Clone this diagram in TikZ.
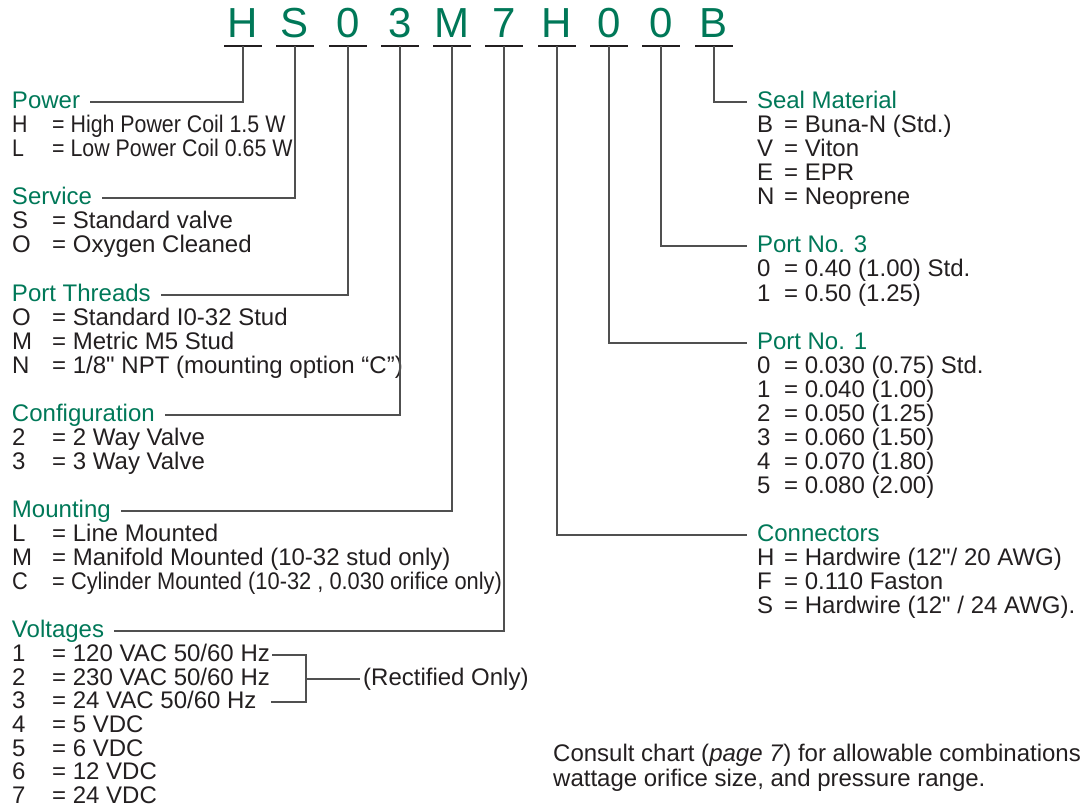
\documentclass[tikz,border=0pt]{standalone}
\usepackage{fontspec}
\setmainfont{Liberation Sans}
\newfontfamily\narrowfont[FakeStretch=0.89]{Liberation Sans}
\newfontfamily\condfont[FakeStretch=0.91]{Liberation Sans}
\newfontfamily\rawfont[Ligatures=TeXOff]{Liberation Sans}
\definecolor{codegreen}{RGB}{0,120,88}
\definecolor{inkgray}{RGB}{35,31,32}
\definecolor{leadgray}{RGB}{80,80,80}
\newcommand{\lkey}[1]{\makebox[40pt][l]{#1}}
\newcommand{\rkey}[1]{\makebox[27pt][l]{#1}}
\newcommand{\inch}{{\rawfont\symbol{34}}}
\tikzset{
	codechar/.style={text=codegreen, font=\fontsize{42}{42}\selectfont, anchor=base, inner sep=0pt},
	heading/.style={text=codegreen, anchor=base west, inner sep=0pt, outer xsep=10pt, text height=17pt, text depth=5pt},
	entry/.style={text=inkgray, anchor=base west, inner sep=0pt, text height=17pt, text depth=5pt},
	leader/.style={draw=leadgray, line width=1.3pt},
	underbar/.style={draw=inkgray, line width=2.5pt}
}
\begin{document}
\begin{tikzpicture}[x=1pt, y=-1pt, font=\fontsize{24}{24}\selectfont]
		\useasboundingbox (0,0) rectangle (1080,808);
		
		% model code
		\node[codechar] (k1) at (243,38) {H};
		\node[codechar] (k2) at (295,38) {S};
		\node[codechar] (k3) at (348,38) {0};
		\node[codechar] (k4) at (400,38) {3};
		\node[codechar] (k5) at (452,38) {M};
		\node[codechar] (k6) at (504,38) {7};
		\node[codechar] (k7) at (557,38) {H};
		\node[codechar] (k8) at (609,38) {0};
		\node[codechar] (k9) at (661,38) {0};
		\node[codechar] (k10) at (714,38) {B};
		
		\coordinate (t1) at (243,46);
		\coordinate (t2) at (295,46);
		\coordinate (t3) at (348,46);
		\coordinate (t4) at (400,46);
		\coordinate (t5) at (452,46);
		\coordinate (t6) at (504,46);
		\coordinate (t7) at (557,46);
		\coordinate (t8) at (609,46);
		\coordinate (t9) at (661,46);
		\coordinate (t10) at (714,46);
		
		\draw[underbar] ([xshift=-19pt]t1) -- ([xshift=19pt]t1);
		\draw[underbar] ([xshift=-19pt]t2) -- ([xshift=19pt]t2);
		\draw[underbar] ([xshift=-19pt]t3) -- ([xshift=19pt]t3);
		\draw[underbar] ([xshift=-19pt]t4) -- ([xshift=19pt]t4);
		\draw[underbar] ([xshift=-19pt]t5) -- ([xshift=19pt]t5);
		\draw[underbar] ([xshift=-19pt]t6) -- ([xshift=19pt]t6);
		\draw[underbar] ([xshift=-19pt]t7) -- ([xshift=19pt]t7);
		\draw[underbar] ([xshift=-19pt]t8) -- ([xshift=19pt]t8);
		\draw[underbar] ([xshift=-19pt]t9) -- ([xshift=19pt]t9);
		\draw[underbar] ([xshift=-19pt]t10) -- ([xshift=19pt]t10);
		
		% left column
		\node[heading] (power) at (2,108) {Power};
		\node[entry] (pw1) at (12,132) {\narrowfont\lkey{H}= High Power Coil 1.5 W};
		\node[entry] (pw2) at (12,156) {\narrowfont\lkey{L}= Low Power Coil 0.65 W};
		
		\node[heading] (service) at (2,204) {Service};
		\node[entry] (sv1) at (12,228) {\lkey{S}= Standard valve};
		\node[entry] (sv2) at (12,252) {\lkey{O}= Oxygen Cleaned};
		
		\node[heading] (threads) at (2,301) {Port Threads};
		\node[entry] (th1) at (12,325) {\lkey{O}= Standard I0-32 Stud};
		\node[entry] (th2) at (12,349) {\lkey{M}= Metric M5 Stud};
		\node[entry] (th3) at (12,373) {\lkey{N}= 1/8\inch{} NPT (mounting option “C”)};
		
		\node[heading] (config) at (2,421) {Configuration};
		\node[entry] (cf1) at (12,445) {\lkey{2}= 2 Way Valve};
		\node[entry] (cf2) at (12,469) {\lkey{3}= 3 Way Valve};
		
		\node[heading] (mounting) at (2,517) {Mounting};
		\node[entry] (mt1) at (12,541) {\lkey{L}= Line Mounted};
		\node[entry] (mt2) at (12,565) {\lkey{M}= Manifold Mounted (10-32 stud only)};
		\node[entry] (mt3) at (12,589) {\condfont\lkey{C}= Cylinder Mounted (10-32 , 0.030 orifice only)};
		
		\node[heading] (voltages) at (2,637) {Voltages};
		\node[entry] (vt1) at (12,661) {\lkey{1}= 120 VAC 50/60 Hz};
		\node[entry] (vt2) at (12,685) {\lkey{2}= 230 VAC 50/60 Hz};
		\node[entry] (vt3) at (12,708) {\lkey{3}= 24 VAC 50/60 Hz};
		\node[entry] (vt4) at (12,732) {\lkey{4}= 5 VDC};
		\node[entry] (vt5) at (12,756) {\lkey{5}= 6 VDC};
		\node[entry] (vt6) at (12,779) {\lkey{6}= 12 VDC};
		\node[entry] (vt7) at (12,803) {\lkey{7}= 24 VDC};
		
		% rectified bracket
		\node[entry] (rectified) at (363,685) {(Rectified Only)};
		\coordinate (brk) at (306,679);
		\draw[leader] ([xshift=2pt]vt1.east) -| (brk) |- ([xshift=14pt]vt3.east);
		\draw[leader] (brk) -- ([xshift=-3pt]rectified.west);
		
		% right column
		\node[heading] (seal) at (747,108) {Seal Material};
		\node[entry] (sl1) at (757,132) {\rkey{B}= Buna-N (Std.)};
		\node[entry] (sl2) at (757,156) {\rkey{V}= Viton};
		\node[entry] (sl3) at (757,180) {\rkey{E}= EPR};
		\node[entry] (sl4) at (757,204) {\rkey{N}= Neoprene};
		
		\node[heading] (portc) at (747,252) {Port No. 3};
		\node[entry] (pc1) at (757,276) {\rkey{0}= 0.40 (1.00) Std.};
		\node[entry] (pc2) at (757,301) {\rkey{1}= 0.50 (1.25)};
		
		\node[heading] (portb) at (747,349) {Port No. 1};
		\node[entry] (pb1) at (757,373) {\rkey{0}= 0.030 (0.75) Std.};
		\node[entry] (pb2) at (757,397) {\rkey{1}= 0.040 (1.00)};
		\node[entry] (pb3) at (757,421) {\rkey{2}= 0.050 (1.25)};
		\node[entry] (pb4) at (757,445) {\rkey{3}= 0.060 (1.50)};
		\node[entry] (pb5) at (757,469) {\rkey{4}= 0.070 (1.80)};
		\node[entry] (pb6) at (757,493) {\rkey{5}= 0.080 (2.00)};
		
		\node[heading] (connectors) at (747,541) {Connectors};
		\node[entry] (cn1) at (757,565) {\rkey{H}= Hardwire (12\inch/ 20 AWG)};
		\node[entry] (cn2) at (757,589) {\rkey{F}= 0.110 Faston};
		\node[entry] (cn3) at (757,613) {\rkey{S}= Hardwire (12\inch{} / 24 AWG).};
		
		% leaders
		\draw[leader] (t1) |- (power.east);
		\draw[leader] (t2) |- (service.east);
		\draw[leader] (t3) |- (threads.east);
		\draw[leader] (t4) |- (config.east);
		\draw[leader] (t5) |- (mounting.east);
		\draw[leader] (t6) |- (voltages.east);
		\draw[leader] (t7) |- (connectors.west);
		\draw[leader] (t8) |- (portb.west);
		\draw[leader] (t9) |- (portc.west);
		\draw[leader] (t10) |- (seal.west);
		
		% note
		\node[entry] (note1) at (553,761) {Consult chart (\textit{page 7}) for allowable combinations};
		\node[entry] (note2) at (553,786) {wattage orifice size, and pressure range.};
	\end{tikzpicture}
\end{document}
